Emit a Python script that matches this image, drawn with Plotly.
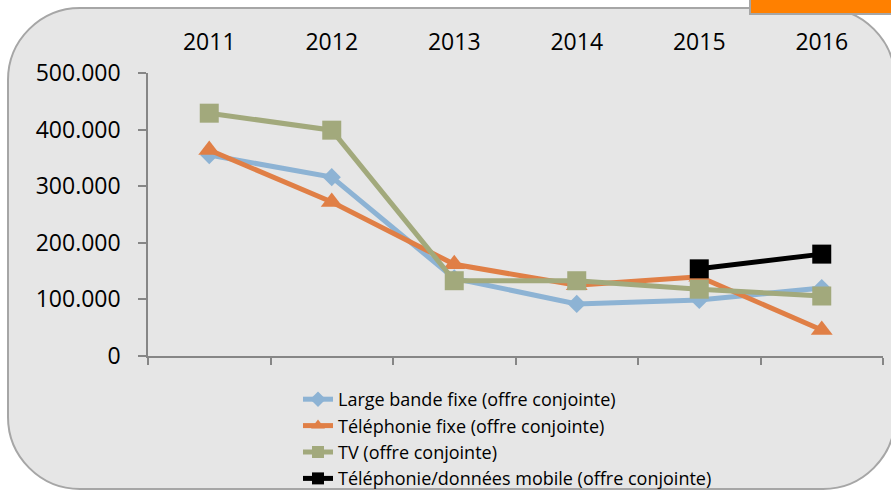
import plotly.graph_objects as go

# data
years = ["2011", "2012", "2013", "2014", "2015", "2016"]
large_bande = [355000, 316000, 137000, 92000, 99000, 120000]
telephonie_fixe = [364000, 272000, 162000, 125000, 140000, 46000]
tv = [429000, 399000, 133000, 133000, 118000, 106000]
mobile_years = ["2015", "2016"]
mobile = [154000, 180000]

names = [
    "Large bande fixe (offre conjointe)",
    "Téléphonie fixe (offre conjointe)",
    "TV (offre conjointe)",
    "Téléphonie/données mobile (offre conjointe)",
]

W, H = 891, 490
L, R, T, B = 148, 883, 73, 356   # plot area in pixels


def px(x):
    return (x - L) / (R - L)


def py(y):
    return (B - y) / (B - T)


def rounded_rect(x0, y0, x1, y1, r):
    k = 0.55 * r
    pts = [
        f"M{px(x0 + r)},{py(y0)}",
        f"L{px(x1 - r)},{py(y0)}",
        f"C{px(x1 - r + k)},{py(y0)} {px(x1)},{py(y0 + r - k)} {px(x1)},{py(y0 + r)}",
        f"L{px(x1)},{py(y1 - r)}",
        f"C{px(x1)},{py(y1 - r + k)} {px(x1 - r + k)},{py(y1)} {px(x1 - r)},{py(y1)}",
        f"L{px(x0 + r)},{py(y1)}",
        f"C{px(x0 + r - k)},{py(y1)} {px(x0)},{py(y1 - r + k)} {px(x0)},{py(y1 - r)}",
        f"L{px(x0)},{py(y0 + r)}",
        f"C{px(x0)},{py(y0 + r - k)} {px(x0 + r - k)},{py(y0)} {px(x0 + r)},{py(y0)}",
        "Z",
    ]
    return " ".join(pts)


fig = go.Figure()

fig.add_trace(go.Scatter(
    x=years, y=large_bande, name=names[0], mode="lines+markers",
    line=dict(color="#8DB3D4", width=5),
    marker=dict(symbol="diamond", size=14, color="#8DB3D4"),
    legendgroup="a",
))
fig.add_trace(go.Scatter(
    x=years, y=telephonie_fixe, name=names[1], mode="lines+markers",
    line=dict(color="#E07F46", width=5),
    marker=dict(symbol="triangle-up", size=19, color="#E07F46"),
    legendgroup="b",
))
fig.add_trace(go.Scatter(
    x=years, y=tv, name=names[2], mode="lines+markers",
    line=dict(color="#A2A97C", width=5),
    marker=dict(symbol="square", size=19, color="#A2A97C"),
    legendgroup="c",
))
fig.add_trace(go.Scatter(
    x=mobile_years, y=mobile, name=names[3], mode="lines+markers",
    line=dict(color="#000000", width=5),
    marker=dict(symbol="square", size=19, color="#000000"),
    legendgroup="d",
))
# invisible trace to carry the year labels on the top axis
fig.add_trace(go.Scatter(
    x=years, y=[None] * len(years), xaxis="x2", showlegend=False,
    hoverinfo="skip", mode="markers",
))

fig.update_layout(
    width=W, height=H,
    margin=dict(l=L, r=W - R, t=T, b=H - B, autoexpand=False),
    paper_bgcolor="white",
    plot_bgcolor="rgba(0,0,0,0)",
    separators=",.",
    font=dict(family="Open Sans", color="black"),
    xaxis=dict(
        type="category", categoryorder="array", categoryarray=years,
        range=[-0.5, 5.5], showticklabels=False, showgrid=False,
        showline=True, linecolor="#868686", linewidth=1.5,
        ticks="outside", tickson="boundaries", ticklen=7,
        tickcolor="#868686", tickwidth=1.5, zeroline=False,
    ),
    xaxis2=dict(
        type="category", categoryorder="array", categoryarray=years,
        range=[-0.5, 5.5], overlaying="x", side="top", matches="x",
        showgrid=False, showline=False, ticks="",
        tickfont=dict(size=23), ticklabelstandoff=17,
    ),
    yaxis=dict(
        range=[0, 500000], dtick=100000, tickformat=",.0f",
        showgrid=False, zeroline=False,
        showline=True, linecolor="#868686", linewidth=1.5,
        ticks="outside", ticklen=8, tickcolor="#868686", tickwidth=1.5,
        tickfont=dict(size=23), ticklabelstandoff=13,
    ),
    legend=dict(
        x=px(298), y=py(381), xanchor="left", yanchor="top",
        bgcolor="rgba(0,0,0,0)", font=dict(size=18),
        tracegroupgap=2, traceorder="normal", itemsizing="constant",
    ),
    showlegend=True,
    shapes=[
        dict(type="path", xref="paper", yref="paper", layer="below",
             path=rounded_rect(8, 8, 895, 489, 72),
             fillcolor="#E6E6E6", line=dict(color="#A6A6A6", width=2)),
        dict(type="rect", xref="paper", yref="paper", layer="above",
             x0=px(750), x1=px(900), y0=py(-5), y1=py(14),
             fillcolor="#FF8000", line=dict(color="#A6A6A6", width=2)),
    ],
)

# drop the default body margin so the 891x490 figure fills the window exactly
fig.write_html("out.html", config={"displayModeBar": False},
               post_script="document.body.style.margin='0';")
